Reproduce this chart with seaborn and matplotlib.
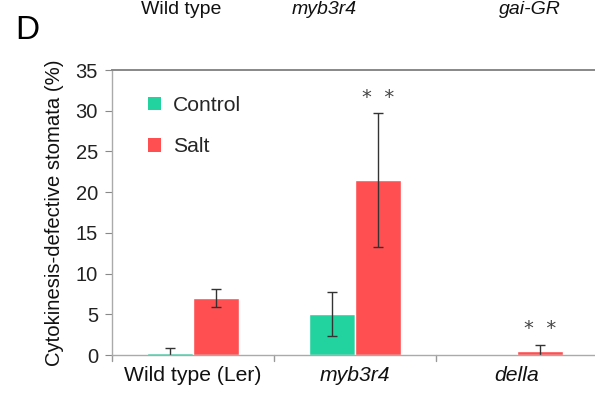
import matplotlib
matplotlib.use("Agg")
import matplotlib.pyplot as plt
import seaborn as sns
import pandas as pd
from matplotlib.patches import Patch

genotypes = ["Wild type (Ler)", "myb3r4", "della"]
treatments = ["Control", "Salt"]
control_mean = [0.3, 5.0, 0.0]
control_err = [0.55, 2.7, 0.0]
salt_mean = [7.0, 21.5, 0.5]
salt_err = [1.05, 8.2, 0.75]
significance = {"myb3r4": "*  *", "della": "*  *"}
top_labels = ["Wild type", "myb3r4", "gai-GR"]

sns.set_theme(style="white")
plt.rcParams["font.family"] = ["Liberation Sans", "DejaVu Sans"]

df = pd.DataFrame({
    "genotype": genotypes * 2,
    "treatment": [treatments[0]] * 3 + [treatments[1]] * 3,
    "value": control_mean + salt_mean,
    "err": control_err + salt_err,
})

palette = {"Control": "#22d3a0", "Salt": "#ff4f51"}

fig = plt.figure(figsize=(5.95, 4.01), dpi=100)
ax = fig.add_axes([0.188, 0.1147, 0.817, 0.7107])

sns.barplot(data=df, x="genotype", y="value", hue="treatment",
            palette=palette, errorbar=None, width=0.57, gap=0,
            saturation=1, ax=ax, legend=False)

# error bars drawn at each bar's own position
for patch, (_, row) in zip(ax.patches, df.iterrows()):
    if row["value"] <= 0:
        continue
    cx = patch.get_x() + patch.get_width() / 2
    ax.errorbar(cx, row["value"], yerr=row["err"], fmt="none",
                ecolor="#333333", elinewidth=1.0, capsize=3.5, capthick=1.0)
    if row["treatment"] == "Salt" and row["genotype"] in significance:
        ax.text(cx, row["value"] + row["err"] + 0.8, significance[row["genotype"]],
                ha="center", va="bottom", fontsize=14, color="#444444",
                family="DejaVu Sans")

ax.set_xlim(-0.5, 2.5)
ax.set_ylim(0, 35)
ax.set_yticks(range(0, 36, 5))
ax.tick_params(axis="y", labelsize=14.5, length=5, width=0.8, color="#888888",
               direction="out", left=True, pad=5, labelcolor="#222222")
ax.set_xticks([0, 1, 2])
ax.set_xticklabels(genotypes, fontsize=15.2, color="#111111")
for lbl in ax.get_xticklabels()[1:]:
    lbl.set_style("italic")
ax.tick_params(axis="x", length=0, pad=8)
for b in [-0.5, 0.5, 1.5]:
    ax.plot([b, b], [-0.75, 0], color="#999999", lw=1, clip_on=False)

ax.set_xlabel("")
ax.set_ylabel("Cytokinesis-defective stomata (%)", fontsize=14.6, labelpad=8,
              color="#111111")

for side in ["left", "bottom", "top"]:
    ax.spines[side].set_visible(True)
    ax.spines[side].set_linewidth(1.0)
ax.spines["left"].set_color("#aaaaaa")
ax.spines["bottom"].set_color("#aaaaaa")
ax.spines["top"].set_color("#888888")
ax.spines["top"].set_linewidth(1.4)
ax.spines["right"].set_visible(False)

handles = [Patch(facecolor=palette[t], edgecolor="none", label=t) for t in treatments]
ax.legend(handles=handles, loc="upper left", bbox_to_anchor=(0.035, 0.975),
          frameon=False, fontsize=15.2, handlelength=0.6, handleheight=0.6,
          handletextpad=0.6, labelspacing=1.05)

fig.text(0.025, 0.925, "D", fontsize=24, ha="left", va="center", color="#000000")
label_x = [0.305, 0.545, 0.89]
for i, (t, x) in enumerate(zip(top_labels, label_x)):
    fig.text(x, 0.998, t, fontsize=14, ha="center", va="top",
             style="normal" if i == 0 else "italic", color="#111111")

fig.savefig("out.png", dpi=100)
